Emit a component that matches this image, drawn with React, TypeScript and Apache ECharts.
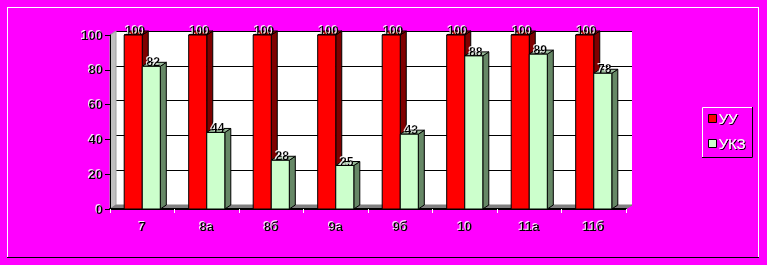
import React, { useEffect, useRef } from "react";
import * as echarts from "echarts";

// Classes and the share of pupils per indicator
const categories = ["7", "8а", "8б", "9а", "9б", "10", "11а", "11б"];
const seriesNames = ["УУ", "УКЗ"];
const uuValues = [100, 100, 100, 100, 100, 100, 100, 100];
const ukzValues = [82, 44, 28, 25, 43, 88, 89, 78];
const yTicks = { min: 0, max: 100, interval: 20 };

// Front plane of the plot and the 3D depth offset
const W = 767;
const H = 265;
const FRONT = { left: 110, top: 35, right: 141, bottom: 56 };
const DX = 6;
const DY = -4;

const FONT = "Arial, 'Liberation Sans', sans-serif";

type Faces = { front: string; side: string; top: string };

function bar3d(slot: 0 | 1, faces: Faces) {
  return (_params: any, api: any) => {
    const idx = api.value(0);
    const v = api.value(1);
    const [cx, y1] = api.coord([idx, v]);
    const [, y0] = api.coord([idx, 0]);
    const w = api.size([1, 0])[0] * 0.28;
    const x0 = slot === 0 ? cx - w : cx;
    const x1 = x0 + w;
    const stroke = { stroke: "#000", lineWidth: 1 };
    return {
      type: "group",
      children: [
        {
          type: "polygon",
          shape: { points: [[x1, y1], [x1 + DX, y1 + DY], [x1 + DX, y0 + DY], [x1, y0]] },
          style: { fill: faces.side, ...stroke },
        },
        {
          type: "polygon",
          shape: { points: [[x0, y1], [x0 + DX, y1 + DY], [x1 + DX, y1 + DY], [x1, y1]] },
          style: { fill: faces.top, ...stroke },
        },
        {
          type: "rect",
          shape: { x: x0, y: y1, width: w, height: y0 - y1 },
          style: { fill: faces.front, ...stroke },
        },
        {
          type: "text",
          x: (x0 + x1) / 2 + 2,
          y: y1 - 4,
          z2: 10,
          style: {
            text: String(v),
            fill: "#000",
            font: `bold 12px ${FONT}`,
            align: "center",
            verticalAlign: "middle",
            textShadowColor: "rgba(255,255,255,0.9)",
            textShadowOffsetX: -1,
            textShadowOffsetY: -1,
            textShadowBlur: 1,
          },
        },
      ],
    };
  };
}

export default function App() {
  const ref = useRef<HTMLDivElement>(null);

  useEffect(() => {
    if (!ref.current) return;
    const chart = echarts.init(ref.current, null, { renderer: "svg" });

    const fl = FRONT.left;
    const ft = FRONT.top;
    const fr = W - FRONT.right;
    const fb = H - FRONT.bottom;

    const labelText = {
      color: "#000",
      fontWeight: "bold" as const,
      fontSize: 13,
      fontFamily: FONT,
      textShadowColor: "rgba(255,255,255,0.9)",
      textShadowOffsetX: -1,
      textShadowOffsetY: -1,
      textShadowBlur: 1,
    };

    chart.setOption({
      animation: false,
      backgroundColor: "#ff00ff",
      grid: [
        { ...FRONT, show: false },
        {
          left: FRONT.left + DX,
          top: FRONT.top + DY,
          right: FRONT.right - DX,
          bottom: FRONT.bottom - DY,
          show: true,
          backgroundColor: "#fff",
          borderWidth: 0,
          z: 0,
        },
      ],
      xAxis: [
        {
          type: "category",
          gridIndex: 0,
          data: categories,
          axisLine: { lineStyle: { color: "#000", width: 2 } },
          axisTick: { show: true, length: 4, lineStyle: { color: "#fff" } },
          axisLabel: { ...labelText, margin: 11 },
          z: 4,
        },
        { type: "value", gridIndex: 1, show: false, min: 0, max: 1 },
      ],
      yAxis: [
        {
          type: "value",
          gridIndex: 0,
          ...yTicks,
          axisLine: { show: true, lineStyle: { color: "#000", width: 1 } },
          axisTick: { show: true, length: 5, lineStyle: { color: "#000" } },
          axisLabel: { ...labelText, margin: 7 },
          splitLine: { show: false },
          z: 4,
        },
        {
          type: "value",
          gridIndex: 1,
          ...yTicks,
          axisLine: { show: false },
          axisTick: { show: false },
          axisLabel: { show: false },
          splitLine: { show: true, lineStyle: { color: "#000", width: 1 } },
        },
      ],
      legend: {
        data: seriesNames,
        orient: "vertical",
        left: 708,
        top: 111,
        padding: [0, 0, 0, 0],
        itemWidth: 8,
        itemHeight: 8,
        itemGap: 10,
        icon: "rect",
        itemStyle: { borderColor: "#000", borderWidth: 1 },
        textStyle: {
          color: "#fff",
          fontSize: 15,
          fontFamily: FONT,
          padding: [0, 0, 0, -3],
          textShadowColor: "#000",
          textShadowOffsetX: 1,
          textShadowOffsetY: 1,
          textShadowBlur: 1,
        },
      },
      graphic: [
        // chart area frame
        { type: "line", shape: { x1: 7, y1: 7.5, x2: 759, y2: 7.5 }, style: { stroke: "#fff", lineWidth: 1 }, z: 1 },
        { type: "line", shape: { x1: 7.5, y1: 7, x2: 7.5, y2: 258 }, style: { stroke: "#fff", lineWidth: 1 }, z: 1 },
        { type: "line", shape: { x1: 758.5, y1: 7, x2: 758.5, y2: 258 }, style: { stroke: "#fff", lineWidth: 1 }, z: 1 },
        { type: "line", shape: { x1: 7, y1: 257.5, x2: 759, y2: 257.5 }, style: { stroke: "#000", lineWidth: 1 }, z: 1 },
        // left side wall
        {
          type: "polygon",
          shape: { points: [[fl, ft], [fl + DX, ft + DY], [fl + DX, fb + DY], [fl, fb]] },
          style: { fill: "#c0c0c0", stroke: "#a0a0a0", lineWidth: 1 },
          z: 1,
        },
        // floor
        {
          type: "polygon",
          shape: { points: [[fl, fb], [fl + DX, fb + DY], [fr + DX, fb + DY], [fr, fb]] },
          style: { fill: "#808080", stroke: "#808080", lineWidth: 1 },
          z: 1,
        },
        // legend box
        { type: "rect", shape: { x: 702.5, y: 107.5, width: 50, height: 50 }, style: { fill: "none", stroke: "#fff", lineWidth: 1 }, z: 1 },
        { type: "polyline", shape: { points: [[752.5, 107], [752.5, 157.5], [702, 157.5]] }, style: { fill: "none", stroke: "#000", lineWidth: 1 }, z: 1 },
      ],
      series: [
        {
          name: seriesNames[0],
          type: "custom",
          xAxisIndex: 0,
          yAxisIndex: 0,
          z: 5,
          itemStyle: { color: "#ff0000" },
          data: uuValues.map((v, i) => [i, v]),
          encode: { x: 0, y: 1 },
          renderItem: bar3d(0, { front: "#ff0000", side: "#800000", top: "#c00000" }),
        },
        {
          name: seriesNames[1],
          type: "custom",
          xAxisIndex: 0,
          yAxisIndex: 0,
          z: 5,
          itemStyle: { color: "#ccffcc" },
          data: ukzValues.map((v, i) => [i, v]),
          encode: { x: 0, y: 1 },
          renderItem: bar3d(1, { front: "#ccffcc", side: "#668866", top: "#99bb99" }),
        },
      ],
    });

    return () => chart.dispose();
  }, []);

  return (
    <div
      ref={ref}
      style={{ position: "absolute", left: 0, top: 0, width: W, height: H }}
    />
  );
}
